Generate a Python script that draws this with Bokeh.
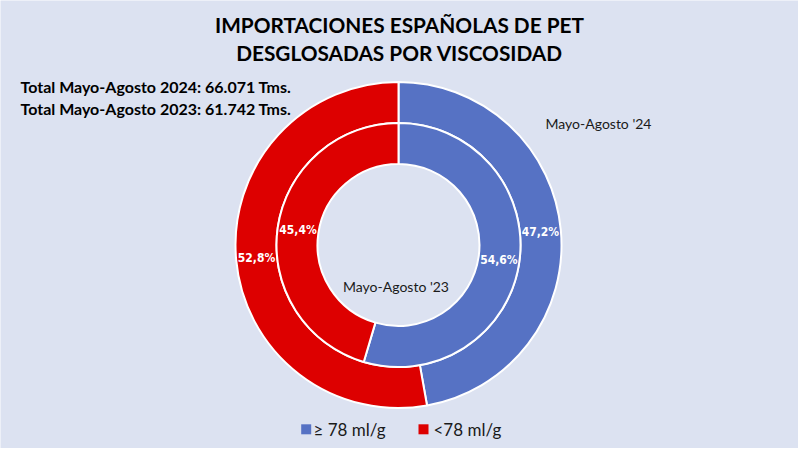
import math
from bokeh.plotting import figure
from bokeh.models import ColumnDataSource
from bokeh.core.properties import value
from bokeh.embed import file_html
from bokeh.resources import INLINE

# ---- data ----
categories = ["≥ 78 ml/g", "<78 ml/g"]
share_2024 = [47.2, 52.8]   # outer ring
share_2023 = [54.6, 45.4]   # inner ring
ring_labels = ["Mayo-Agosto '24", "Mayo-Agosto '23"]
title_lines = ["IMPORTACIONES ESPAÑOLAS DE PET", "DESGLOSADAS POR VISCOSIDAD"]
total_lines = ["Total Mayo-Agosto 2024: 66.071 Tms.", "Total Mayo-Agosto 2023: 61.742 Tms."]

colors = ["#5672C4", "#DD0000"]
BG = "#DCE2F1"

W, H = 798, 448


def X(rx):
    return rx


def Y(ry):
    return H - ry


p = figure(width=W, height=H, x_range=(0, W), y_range=(0, H),
           output_backend="svg", toolbar_location=None, min_border=0)
p.axis.visible = False
p.grid.visible = False
p.outline_line_color = None
p.background_fill_color = BG
p.border_fill_color = BG

cx, cy = X(398), Y(244.5)
rings = [(share_2024, 122, 163), (share_2023, 81, 122)]

lab_x, lab_y, lab_t = [], [], []
for shares, r_in, r_out in rings:
    total = sum(shares)
    cum = 0.0
    starts, ends = [], []
    for s in shares:
        a0 = math.pi / 2 - 2 * math.pi * cum / total
        cum += s
        a1 = math.pi / 2 - 2 * math.pi * cum / total
        starts.append(a0)
        ends.append(a1)
        mid = (a0 + a1) / 2
        rm = (r_in + r_out) / 2
        lab_x.append(cx + rm * math.cos(mid))
        lab_y.append(cy + rm * math.sin(mid))
        lab_t.append(f"{s:.1f}".replace(".", ",") + "%")
    src = ColumnDataSource(dict(x=[cx] * len(shares), y=[cy] * len(shares),
                                start=starts, end=ends, color=colors))
    p.annular_wedge(x="x", y="y", inner_radius=r_in, outer_radius=r_out,
                    start_angle="start", end_angle="end", direction="clock",
                    fill_color="color", line_color="white", line_width=2,
                    source=src)

p.text(x=lab_x, y=lab_y, text=lab_t, text_color="white",
       text_font=value("DejaVu Sans Condensed"), text_font_style="bold",
       text_font_size="12px", text_align="center", text_baseline="middle")

# titles
p.text(x=[X(399), X(399)], y=[Y(24), Y(52)], text=title_lines,
       text_font=value("Lato"), text_font_style="bold", text_font_size="20.8px",
       text_color="black", text_align="center", text_baseline="middle")

p.text(x=[X(20), X(20)], y=[Y(86), Y(108)], text=total_lines,
       text_font=value("Lato"), text_font_style="bold", text_font_size="16px",
       text_color="black", text_align="left", text_baseline="middle")

p.text(x=[X(545)], y=[Y(123)], text=[ring_labels[0]],
       text_font=value("Lato"), text_font_size="14px",
       text_color="#1a1a1a", text_align="left", text_baseline="middle")
p.text(x=[X(395.5)], y=[Y(286)], text=[ring_labels[1]],
       text_font=value("Lato"), text_font_size="14px",
       text_color="#1a1a1a", text_align="center", text_baseline="middle")

# legend
p.rect(x=[X(305.7), X(423)], y=[Y(428.8), Y(428.8)], width=10, height=10,
       width_units="screen", height_units="screen", fill_color=colors, line_color=None)
p.text(x=[X(313), X(433)], y=[Y(429), Y(429)], text=categories,
       text_font=value("Lato"), text_font_size="17px", text_color="#1a1a1a",
       text_align="left", text_baseline="middle")

open("out.html", "w").write(file_html(p, INLINE))
